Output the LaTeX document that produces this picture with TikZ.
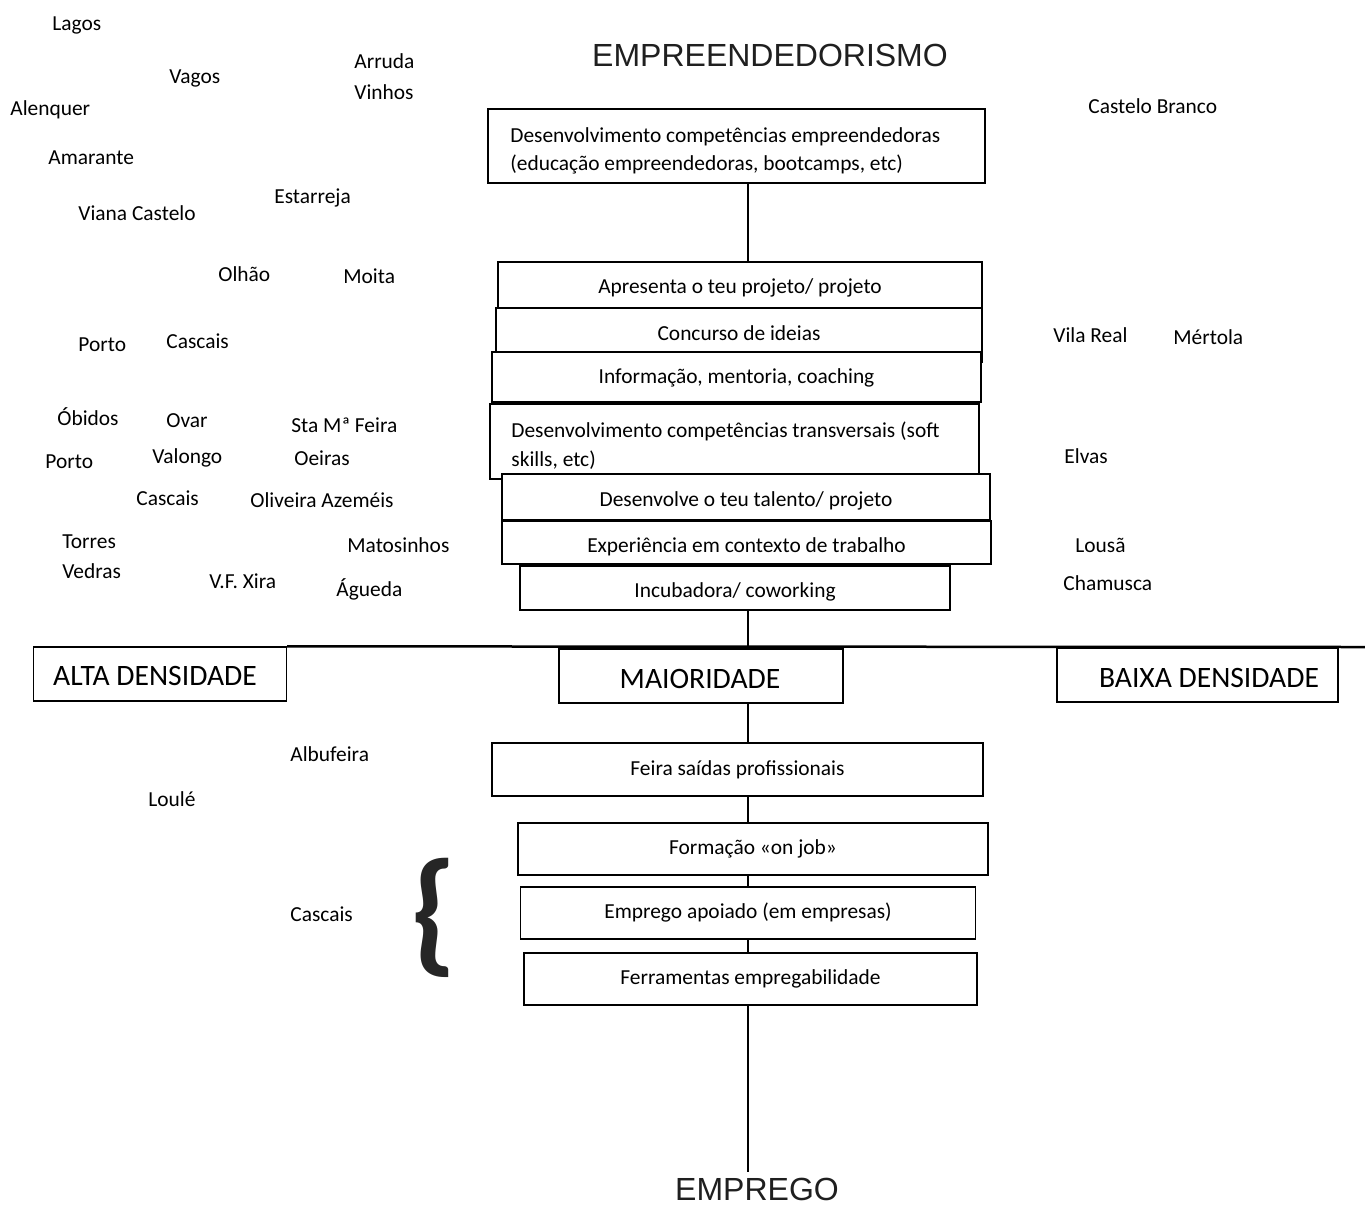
\documentclass[tikz,border=0pt]{standalone}
\usepackage{fontspec}
\setmainfont{Carlito}
\newfontfamily\arialf{Liberation Sans}
\begin{document}
\begin{tikzpicture}[x=0.5pt,y=-0.5pt,
  box/.style={draw, line width=0.65pt, fill=white, inner sep=0pt},
  txt/.style={inner sep=0pt, anchor=base, font=\fontsize{10.7}{14}\selectfont},
  ltxt/.style={inner sep=0pt, anchor=base west, font=\fontsize{10.7}{14}\selectfont},
  town/.style={inner sep=0pt, anchor=base west, font=\fontsize{10.7}{14}\selectfont},
  big/.style={inner sep=0pt, anchor=base, font=\arialf\fontsize{16}{19}\selectfont, text=black!88},
  zone/.style={inner sep=0pt, anchor=base, font=\fontsize{14.8}{18}\selectfont},
  spineline/.style={line width=1pt},
  divider/.style={line width=1.25pt}]
\useasboundingbox (0,0) rectangle (1365,1206);
\coordinate (spine) at (748,0);
\coordinate (endpt) at (748,1172);

% heading
\node[big] (hEmp) at (770,66) {EMPREENDEDORISMO};

% boxes (geometry)
\node[box, minimum width=248.5pt, minimum height=37pt] (top) at (736.5,146) {};
\node[box, minimum width=142pt, minimum height=27pt] (maior) at (701,676) {};

% spine behind boxes
\draw[spineline] (top.south -| spine) -- (maior.north -| spine);
\draw[spineline] (maior.south -| spine) -- (endpt);

\node[box, minimum width=242pt, minimum height=23pt] (apr) at (740,285) {};
\node[box, minimum width=243pt, minimum height=27pt] (conc) at (739,335) {};
\node[box, minimum width=244.5pt, minimum height=25pt] (info) at (736.5,377) {};
\node[box, minimum width=244.5pt, minimum height=37.5pt] (transv) at (734.5,441.5) {};
\node[box, minimum width=244pt, minimum height=23pt] (desv) at (746,497) {};
\node[box, minimum width=244.5pt, minimum height=21.5pt] (exper) at (746.5,542.5) {};
\node[box, minimum width=215pt, minimum height=22pt] (incub) at (735,588) {};

\node[box, minimum width=126.5pt, minimum height=27pt] (alta) at (160,674) {};
\node[box, minimum width=140.5pt, minimum height=27pt] (baixa) at (1197.5,675) {};

\node[box, minimum width=245.5pt, minimum height=26.5pt] (feira) at (737.5,769.5) {};
\node[box, minimum width=235pt, minimum height=26pt] (form) at (753,849) {};
\node[box, minimum width=227.5pt, minimum height=26pt] (empr) at (748,913) {};
\node[box, minimum width=226.5pt, minimum height=26pt] (ferr) at (750.5,979) {};

% divider line
\draw[divider] (alta.north east) -- (1365,647) coordinate (divend);

% box texts
\node[ltxt] (tTop) at (510,142) {\begin{tabular}[t]{@{}l@{}}Desenvolvimento competências empreendedoras\\(educação empreendedoras, bootcamps, etc)\end{tabular}};
\node[txt] (tApr) at (740,293) {Apresenta o teu projeto/ projeto};
\node[txt] (tConc) at (739,340) {Concurso de ideias};
\node[txt] (tInfo) at (736.5,383) {Informação, mentoria, coaching};
\node[ltxt, font=\fontsize{10.7}{14.5}\selectfont] (tTransv) at (511,437) {\begin{tabular}[t]{@{}l@{}}Desenvolvimento competências transversais (soft\\skills, etc)\end{tabular}};
\node[txt] (tDesv) at (746,506) {Desenvolve o teu talento/ projeto};
\node[txt] (tExp) at (746.5,552) {Experiência em contexto de trabalho};
\node[txt] (tIncub) at (735,597) {Incubadora/ coworking};
\node[txt] (tFeira) at (737.5,775) {Feira saídas profissionais};
\node[txt] (tForm) at (753,854) {Formação «on job»};
\node[txt] (tEmpr) at (748,918) {Emprego apoiado (em empresas)};
\node[txt] (tFerr) at (750.5,984) {Ferramentas empregabilidade};

\node[zone] (tAlta) at (155,685.5) {ALTA DENSIDADE};
\node[zone] (tMaior) at (700,688) {MAIORIDADE};
\node[zone] (tBaixa) at (1209,687) {BAIXA DENSIDADE};

\node[big] (hEmprego) at (757,1200) {EMPREGO};

% brace
\node[inner sep=0pt, font=\bfseries\fontsize{68}{68}\selectfont, text=black!85] (brace) at (434,917.5) {\{};

% towns
\node[town] (lagos) at (52,30) {Lagos};
\node[town] (vagos) at (169,83) {Vagos};
\node[town, font=\fontsize{10.7}{15.5}\selectfont] (arruda) at (354,68) {\begin{tabular}[t]{@{}l@{}}Arruda\\Vinhos\end{tabular}};
\node[town] (alenquer) at (10,115) {Alenquer};
\node[town] (amarante) at (48,164) {Amarante};
\node[town] (estarreja) at (274,203) {Estarreja};
\node[town] (viana) at (78,220) {Viana Castelo};
\node[town] (olhao) at (218,281) {Olhão};
\node[town] (moita) at (343,283) {Moita};
\node[town] (porto1) at (78,351) {Porto};
\node[town] (cascais1) at (166,348) {Cascais};
\node[town] (obidos) at (57,425) {Óbidos};
\node[town] (ovar) at (166,427) {Ovar};
\node[town] (feiraT) at (291,432) {Sta Mª Feira};
\node[town] (porto2) at (45,468) {Porto};
\node[town] (valongo) at (152,463) {Valongo};
\node[town] (oeiras) at (294,465) {Oeiras};
\node[town] (cascais2) at (136,505) {Cascais};
\node[town] (oliveira) at (250,507) {Oliveira Azeméis};
\node[town, font=\fontsize{10.7}{15}\selectfont] (torres) at (62,548) {\begin{tabular}[t]{@{}l@{}}Torres\\Vedras\end{tabular}};
\node[town] (matosinhos) at (347,552) {Matosinhos};
\node[town] (vfxira) at (209,588) {V.F. Xira};
\node[town] (agueda) at (336,596) {Águeda};
\node[town] (castelo) at (1088,113) {Castelo Branco};
\node[town] (vilareal) at (1053,342) {Vila Real};
\node[town] (mertola) at (1173,344) {Mértola};
\node[town] (elvas) at (1064,463) {Elvas};
\node[town] (lousa) at (1075,552) {Lousã};
\node[town] (chamusca) at (1063,590) {Chamusca};
\node[town] (albufeira) at (290,761) {Albufeira};
\node[town] (loule) at (148,806) {Loulé};
\node[town] (cascais3) at (290,921) {Cascais};
\end{tikzpicture}
\end{document}
